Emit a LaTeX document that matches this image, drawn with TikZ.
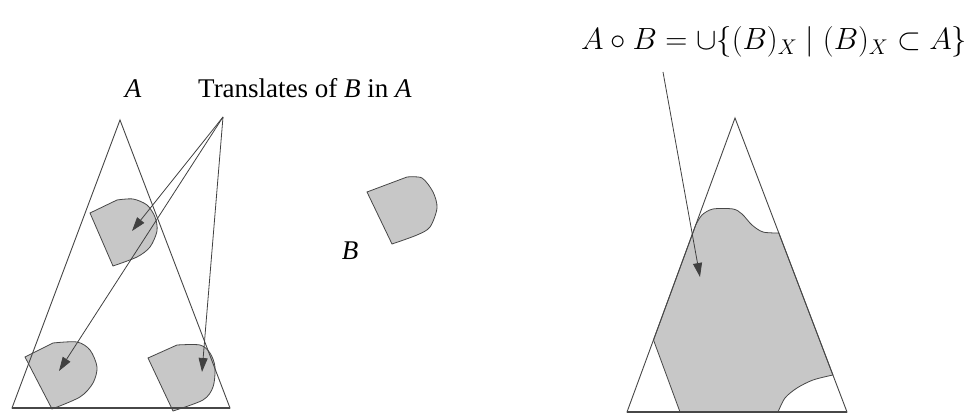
\documentclass[tikz,border=0pt]{standalone}
\usepackage{fontspec}
\setmainfont{Liberation Serif}
\usetikzlibrary{arrows.meta}
\begin{document}
\begin{tikzpicture}[x=1pt,y=-1pt,
  edge/.style={draw=black!72, line width=0.9pt},
  baseedge/.style={draw=black!72, line width=1.4pt},
  blob/.style={fill=black!22, draw=black!72, line width=0.8pt},
  ptr/.style={draw=black!75, line width=0.8pt, -{Triangle[length=14pt,width=9pt]}},
  lbl/.style={font=\fontsize{27}{30}\selectfont, inner sep=0pt}]
\useasboundingbox (0,0) rectangle (975,414);
% translates of B inside A
\path[blob] (90,213) -- (117,200) -- plot[smooth] coordinates {(117,200) (133,199) (147,205) (155,217) (157,231) (150,247) (137,257) (113,266)} -- cycle;
\path[blob] (25,357) -- (53,343) -- plot[smooth] coordinates {(53,343) (77,342) (90,350) (97,367) (93,383) (80,397) (52,409)} -- cycle;
\path[blob] (148,358) -- (177,345) -- plot[smooth] coordinates {(177,345) (200,345) (210,353) (215,367) (213,387) (203,400) (173,411)} -- cycle;
% structuring element B
\path[blob] (367,192) -- (407,177) -- plot[smooth] coordinates {(407,177) (422,178) (433,192) (437,208) (430,227) (417,235) (392,244)} -- cycle;
% opening region
\path[blob] (695.7,225) -- plot[smooth, tension=0.5] coordinates {(695.7,225) (702,215) (713,209) (733,209) (742,214) (752,225) (763,232) (778.8,233)}
  -- (832.9,375) -- plot[smooth] coordinates {(832.9,375) (813,380) (797,388) (785,398) (778,412)}
  -- (680,412) -- (653.5,340) -- cycle;
% triangles A
\coordinate (tA1) at (120,120);
\coordinate (tA2) at (12,408);
\coordinate (tA3) at (230,408);
\draw[edge] (tA1) -- (tA2) -- (tA3) -- cycle;
\draw[baseedge] (tA2) -- (tA3);
\coordinate (tB1) at (735,118);
\coordinate (tB2) at (627,412);
\coordinate (tB3) at (847,412);
\draw[edge] (tB1) -- (tB2) -- (tB3) -- cycle;
\draw[baseedge] (tB2) -- (tB3);
% labels
\node[lbl, font=\fontsize{27}{30}\selectfont\itshape, anchor=base] (labA) at (133,98) {A};
\node[lbl, anchor=base west] (labT) at (198,98) {Translates of \textit{B} in \textit{A}};
\node[lbl, font=\fontsize{27}{30}\selectfont\itshape, anchor=base] (labB) at (350,260) {B};
\node[lbl, anchor=base west] (labF) at (581,50) {\resizebox{386pt}{!}{$A\circ B=\cup\{(B)_X\mid(B)_X\subset A\}$}};
% arrows
\coordinate (src) at (223,117);
\coordinate (p1) at (132,231);
\coordinate (p2) at (59,371);
\coordinate (p3) at (202,372);
\draw[ptr] (src) -- (p1);
\draw[ptr] (src) -- (p2);
\draw[ptr] (src) -- (p3);
\coordinate (fsrc) at (663,72);
\coordinate (fp) at (700,277);
\draw[ptr] (fsrc) -- (fp);
\end{tikzpicture}
\end{document}
